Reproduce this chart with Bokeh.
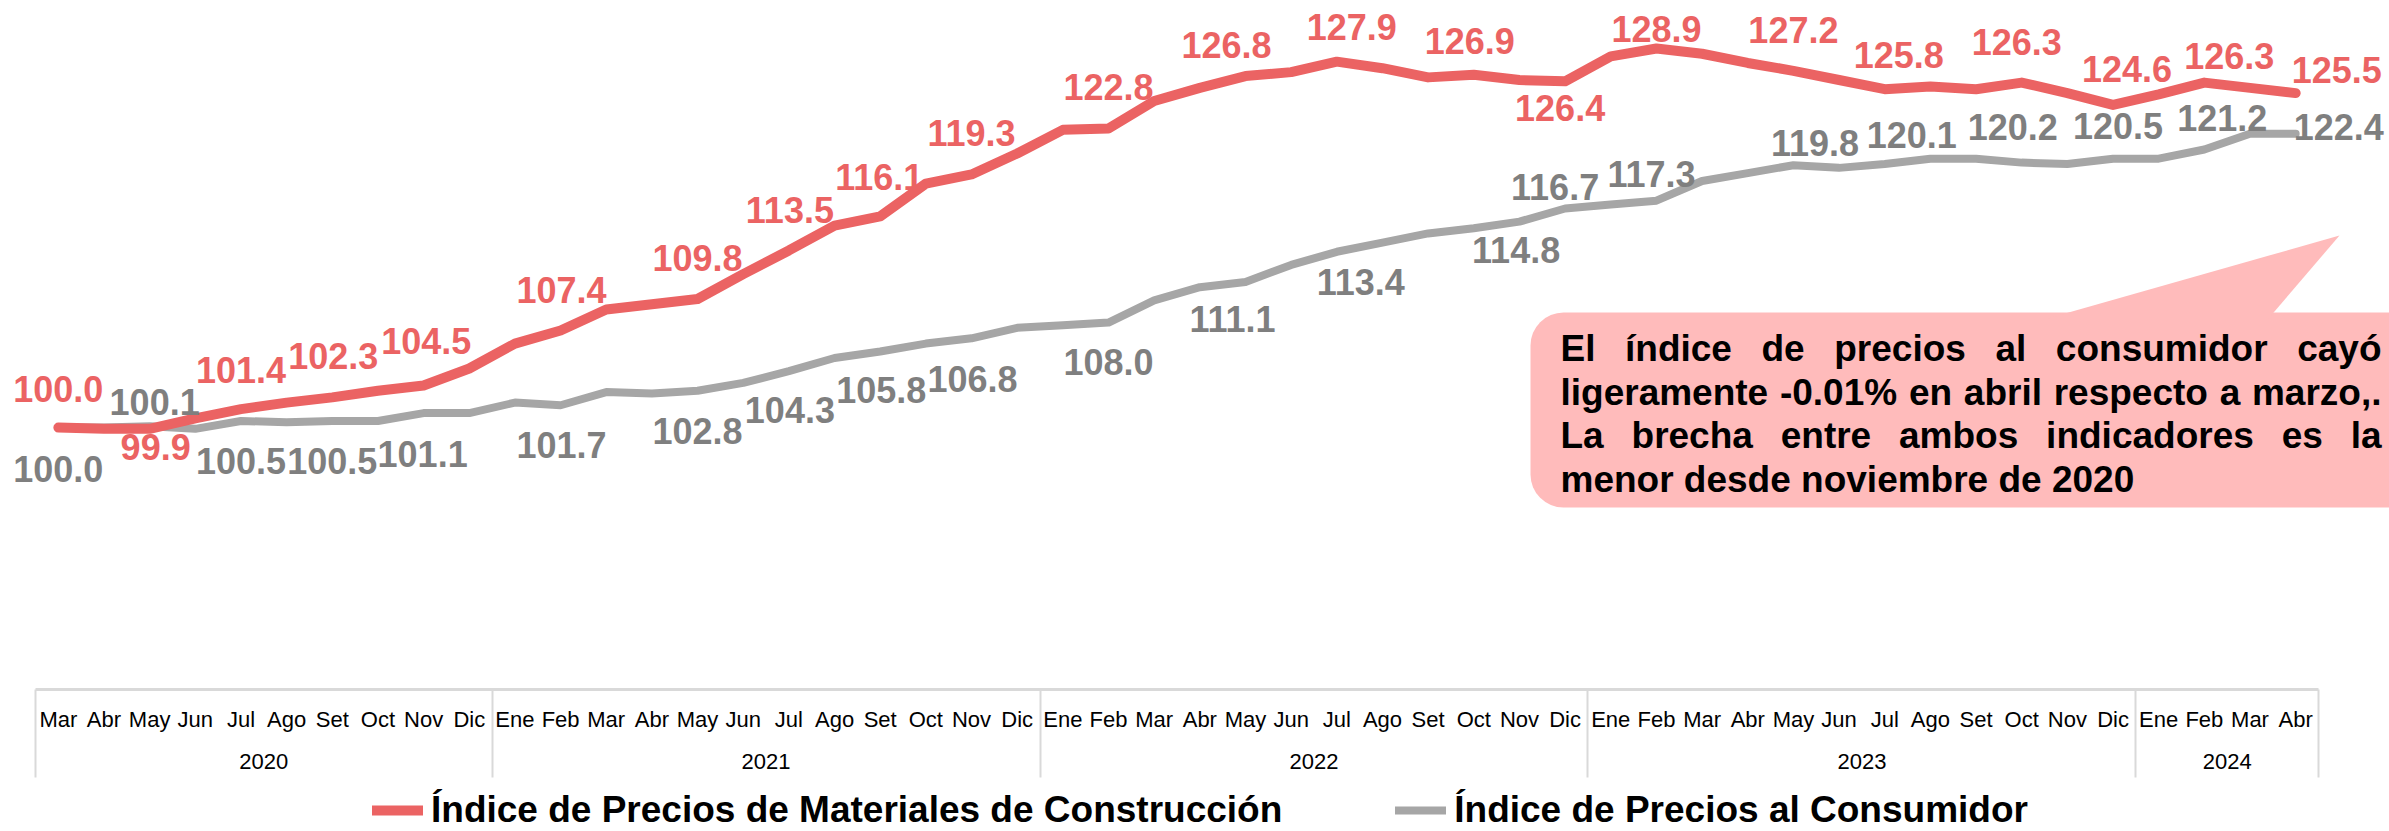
from bokeh.plotting import figure
from bokeh.models import (Range1d, ColumnDataSource, LabelSet, Label, LinearAxis, FixedTicker,
                          Legend, LegendItem, BoxAnnotation, PolyAnnotation)
from bokeh.core.properties import value
from bokeh.embed import file_html
from bokeh.resources import INLINE

# ---------------- data ----------------
years = ["2020", "2021", "2022", "2023", "2024"]
months_2020 = ["Mar", "Abr", "May", "Jun", "Jul", "Ago", "Set", "Oct", "Nov", "Dic"]
months_full = ["Ene", "Feb", "Mar", "Abr", "May", "Jun", "Jul", "Ago", "Set", "Oct", "Nov", "Dic"]
months_2024 = ["Ene", "Feb", "Mar", "Abr"]

materiales = [100.0, 99.9, 99.9, 100.7, 101.4, 101.9, 102.3, 102.8, 103.2, 104.5,
              106.4, 107.4, 109.0, 109.4, 109.8, 111.7, 113.5, 115.4, 116.1, 118.6,
              119.3, 120.9, 122.7, 122.8, 124.9, 125.9, 126.8, 127.1, 127.9, 127.4,
              126.7, 126.9, 126.5, 126.4, 128.3, 128.9, 128.5, 127.8, 127.2, 126.5,
              125.8, 126.0, 125.8, 126.3, 125.5, 124.6, 125.4, 126.3, 125.9, 125.5]

consumidor = [100.0, 100.0, 100.1, 99.9, 100.5, 100.4, 100.5, 100.5, 101.1, 101.1,
              101.9, 101.7, 102.7, 102.6, 102.8, 103.4, 104.3, 105.3, 105.8, 106.4,
              106.8, 107.6, 107.8, 108.0, 109.7, 110.7, 111.1, 112.4, 113.4, 114.1,
              114.8, 115.2, 115.7, 116.7, 117.0, 117.3, 118.8, 119.4, 120.0, 119.8,
              120.1, 120.5, 120.5, 120.2, 120.1, 120.5, 120.5, 121.2, 122.4, 122.4]

mat_label_idx = [0, 2, 4, 6, 9, 11, 14, 16, 18, 20, 23, 26, 28, 31, 33, 35, 38, 40, 43, 45, 47, 49]
ipc_label_idx = [0, 2, 4, 6, 8, 11, 14, 16, 18, 20, 23, 26, 28, 30, 33, 35, 39, 40, 43, 45, 47, 49]

serie_mat = "Índice de Precios de Materiales de Construcción"
serie_ipc = "Índice de Precios al Consumidor"

callout_lines = ["El índice de precios al consumidor cayó",
                 "ligeramente -0.01% en abril respecto a marzo,.",
                 "La brecha entre ambos indicadores es la",
                 "menor desde noviembre de 2020"]

# ---------------- label placement (screen px: dx right, dy down) ----------------
mat_dx = [0, 6, 0, 1, -43, 1, 0, 1, -1, 0, 0, -19, 15, -4, -5, 0, 0, 14, -5, 14, 25, 41]
mat_dy = [-39, 18, -39, -41, -28, -40, -41, -40, -39, -41, -42, -31, -35, -34, 27, -20, -41, -34, -41, -36, -27, -23]
ipc_dx = [0, 5, 0, 0, -1, 1, 0, 1, 1, 1, 0, -13, 24, 88, -10, -5, -24, 27, -9, 5, 18, 43]
ipc_dy = [41, -24, 40, 40, 41, 40, 40, 39, 39, 41, 39, 37, 30, 17, -22, -27, -25, -29, -36, -33, -32, -7]

RED = "#EB6363"
GREY_LINE = "#A6A6A6"
GREY_TEXT = "#7F7F7F"
TABLE = "#D9D9D9"
FONT = "Liberation Sans"

month_names = months_2020 + months_full * 3 + months_2024
year_sizes = [len(months_2020), 12, 12, 12, len(months_2024)]
n = len(month_names)
xpos = [i + 0.5 for i in range(n)]          # centre of each month slot
bounds = [0]
for s in year_sizes:
    bounds.append(bounds[-1] + s)
year_centres = [(bounds[k] + bounds[k + 1]) / 2.0 for k in range(len(years))]

# page geometry (month slots span page x 35..2318, value 80 at page y 689.3, 13.114 px/unit)
W_PAGE, H_PAGE = 2389, 831
X0, UNIT_X = 35.0, 2283.0 / n
Y80, UNIT_Y = 689.3, 13.114
def dx_(px):
    return (px - X0) / UNIT_X
def vy(py):
    return 80 + (Y80 - py) / UNIT_Y

p = figure(width=W_PAGE, height=H_PAGE,
           x_range=Range1d(dx_(0), dx_(W_PAGE)), y_range=Range1d(vy(H_PAGE), vy(0)),
           output_backend="svg", toolbar_location=None,
           x_axis_location=None, y_axis_location=None,
           min_border=0, min_border_left=0, min_border_right=0, min_border_top=0, min_border_bottom=0)
p.grid.visible = False
p.outline_line_color = None
p.background_fill_color = "white"
p.border_fill_color = "white"

# ---- category table axis: separators, months, years ----
sep_axis = LinearAxis(fixed_location=80, bounds=(0, n),
                      ticker=FixedTicker(ticks=[], minor_ticks=[float(b) for b in bounds]))
sep_axis.axis_line_color = None
sep_axis.major_tick_line_color = None
sep_axis.major_label_text_font_size = "0px"
sep_axis.minor_tick_line_color = TABLE
sep_axis.minor_tick_line_width = 2
sep_axis.minor_tick_in = 0
sep_axis.minor_tick_out = 88
p.add_layout(sep_axis, "below")

month_axis = LinearAxis(fixed_location=80, bounds=(0, n),
                        ticker=FixedTicker(ticks=xpos, minor_ticks=[]),
                        major_label_overrides={x: m for x, m in zip(xpos, month_names)})
month_axis.axis_line_color = TABLE
month_axis.axis_line_width = 3
month_axis.major_tick_line_color = None
month_axis.minor_tick_line_color = None
month_axis.major_tick_out = 0
month_axis.minor_tick_out = 0
month_axis.major_label_standoff = 17
month_axis.major_label_text_font = FONT
month_axis.major_label_text_font_size = "22px"
month_axis.major_label_text_color = "#000000"
p.add_layout(month_axis, "below")

year_axis = LinearAxis(fixed_location=80, bounds=(0, n),
                       ticker=FixedTicker(ticks=year_centres, minor_ticks=[]),
                       major_label_overrides={float(x): y for x, y in zip(year_centres, years)})
year_axis.axis_line_color = None
year_axis.major_tick_line_color = None
year_axis.minor_tick_line_color = None
year_axis.major_label_standoff = 58
year_axis.major_label_text_font = FONT
year_axis.major_label_text_font_size = "22px"
year_axis.major_label_text_color = "#000000"
p.add_layout(year_axis, "below")

# ---- series ----
src = ColumnDataSource(dict(x=xpos, mat=materiales, ipc=consumidor))
r_ipc = p.line("x", "ipc", source=src, line_color=GREY_LINE, line_width=8,
               line_cap="round", line_join="round")
r_mat = p.line("x", "mat", source=src, line_color=RED, line_width=10,
               line_cap="round", line_join="round")

def labels(idx, vals, dx, dy, color):
    s = ColumnDataSource(dict(x=[xpos[i] for i in idx], y=[vals[i] for i in idx],
                              t=["%.1f" % vals[i] for i in idx],
                              xo=dx, yo=[-d for d in dy]))
    return LabelSet(x="x", y="y", text="t", source=s, x_offset="xo", y_offset="yo",
                    text_align="center", text_baseline="middle",
                    text_font=value(FONT), text_font_style="bold",
                    text_font_size="36px", text_color=color)

p.add_layout(labels(ipc_label_idx, consumidor, ipc_dx, ipc_dy, GREY_TEXT))
p.add_layout(labels(mat_label_idx, materiales, mat_dx, mat_dy, RED))

# ---- callout ----
CALLOUT = "#FFBBBB"
p.add_layout(BoxAnnotation(left=dx_(1530), right=dx_(2440), top=vy(312), bottom=vy(507),
                           fill_color=CALLOUT, fill_alpha=1, line_color=None, border_radius=33))
p.add_layout(PolyAnnotation(xs=[dx_(2047), dx_(2268), dx_(2339)], ys=[vy(318), vy(318), vy(235)],
                            fill_color=CALLOUT, fill_alpha=1, line_color=None))

CW = {'a': 556, 'b': 611, 'c': 556, 'd': 611, 'e': 556, 'g': 611, 'h': 611, 'i': 278, 'l': 278,
      'm': 889, 'n': 611, 'o': 611, 'p': 611, 'r': 389, 's': 556, 't': 333, 'u': 611, 'v': 556,
      'y': 556, 'z': 500, 'í': 278, 'ó': 611, 'E': 667, 'L': 611, '-': 333, '0': 556, '1': 556,
      '2': 556, '.': 278, ',': 278, '%': 889, ' ': 278}
FS = 37
def tw(s):
    return sum(CW.get(c, 556) for c in s) * FS / 1000.0

TX0, TX1 = 1560.0, 2381.0
base = [348, 391.5, 435, 478.5]
for li, line in enumerate(callout_lines):
    words = line.split(" ")
    if li < 3:
        gap = (TX1 - TX0 - sum(tw(w) for w in words)) / (len(words) - 1)
    else:
        gap = tw(" ")
    x = TX0
    for w in words:
        p.add_layout(Label(x=dx_(x), y=vy(base[li]), text=w, text_font=FONT,
                           text_font_style="bold", text_font_size="%dpx" % FS,
                           text_color="#000000", text_align="left", text_baseline="alphabetic"))
        x += tw(w) + gap

# ---- legend ----
legend = Legend(items=[LegendItem(label=serie_mat, renderers=[r_mat]),
                       LegendItem(label=serie_ipc, renderers=[r_ipc])],
                orientation="horizontal", location=(372, 0),
                label_text_font=FONT, label_text_font_style="bold", label_text_font_size="37px",
                label_text_color="#000000", glyph_width=51, glyph_height=20, label_standoff=8,
                spacing=113, padding=0, margin=0, border_line_color=None,
                background_fill_alpha=0)
p.add_layout(legend)

open("out.html", "w").write(file_html(p, INLINE))
